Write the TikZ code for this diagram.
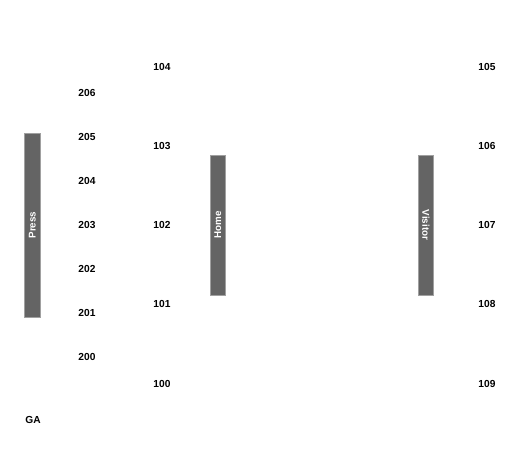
\documentclass[tikz,border=0pt]{standalone}
\usepackage{fontspec}
\setmainfont{Liberation Sans}
\definecolor{benchgray}{HTML}{646464}
\definecolor{benchedge}{HTML}{A0A0A0}
\tikzset{
  section/.style={font=\bfseries\fontsize{10.2}{12}\selectfont, text=black, inner sep=0pt},
  bench/.style={fill=benchgray, draw=benchedge, line width=0.6pt},
  benchtext/.style={font=\bfseries\fontsize{9.8}{12}\selectfont, text=white, inner sep=0pt}
}
\begin{document}
\begin{tikzpicture}[x=1pt,y=-1pt]
   \useasboundingbox (0,0) rectangle (525,448);
   % benches
   \draw[bench] (24.5,133.5) rectangle (40,317);
   \node[benchtext,rotate=90] (press) at (32.2,225) {Press};
   \draw[bench] (210.5,155.5) rectangle (225,295);
   \node[benchtext,rotate=90] (home) at (217.8,225) {Home};
   \draw[bench] (418.5,155.5) rectangle (433,295);
   \node[benchtext,rotate=-90] (visitor) at (425.8,225) {Visitor};
   % upper sections
   \node[section] (s206) at (87,93) {206};
   \node[section] (s205) at (87,137) {205};
   \node[section] (s204) at (87,181) {204};
   \node[section] (s203) at (87,225) {203};
   \node[section] (s202) at (87,269) {202};
   \node[section] (s201) at (87,313) {201};
   \node[section] (s200) at (87,357) {200};
   % lower sections
   \node[section] (s104) at (162,67) {104};
   \node[section] (s103) at (162,146) {103};
   \node[section] (s102) at (162,225) {102};
   \node[section] (s101) at (162,304) {101};
   \node[section] (s100) at (162,384) {100};
   \node[section] (s105) at (487,67) {105};
   \node[section] (s106) at (487,146) {106};
   \node[section] (s107) at (487,225) {107};
   \node[section] (s108) at (487,304) {108};
   \node[section] (s109) at (487,384) {109};
   \node[section] (ga) at (33,420) {GA};
\end{tikzpicture}
\end{document}
